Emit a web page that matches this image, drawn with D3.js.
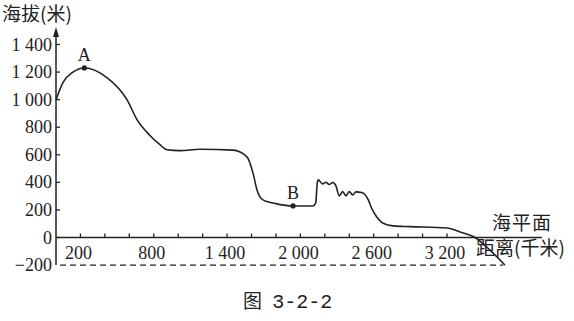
<!DOCTYPE html>
<html>
<head>
<meta charset="utf-8">
<script src="https://cdn.jsdelivr.net/npm/d3@7"></script>
<style>
  body { margin: 0; background: #fff; }
  svg { display: block; }
  .num { font-family: "Liberation Serif", "DejaVu Serif", serif; font-size: 18px; fill: #222; }
  .cjk { font-family: "Noto Sans CJK SC", sans-serif; font-size: 19px; fill: #222; }
</style>
</head>
<body>
<div class="graph"></div>
<script>
// distance (km) along the profile
var distance = [0, 57, 139, 232, 417, 581, 663, 769, 851, 908, 1015, 1178, 1448, 1563, 1612, 1645, 1694, 1808, 1940,
    2103, 2125, 2138, 2146, 2182, 2209, 2236, 2264, 2291, 2318, 2346, 2373, 2400, 2428, 2455, 2502,
    2556, 2583, 2624, 2678, 2760, 2897, 3200, 3306, 3429, 3551, 3674];
// elevation (m)
var elevation = [1000, 1124, 1200, 1230, 1160, 1000, 855, 740, 673, 636, 630, 640, 634, 585, 469, 345, 273, 244, 229,
    229, 249, 394, 418, 389, 401, 384, 399, 375, 302, 333, 302, 333, 309, 331, 326,
    273, 212, 151, 103, 84, 79, 69, 40, 0, -91, -200];

var xTicks = [200, 400, 600, 800, 1000, 1200, 1400, 1600, 1800, 2000, 2200, 2400, 2600, 2800, 3000, 3200];
var xLabels = [200, 800, 1400, 2000, 2600, 3200];
var yTicks = [0, 200, 400, 600, 800, 1000, 1200, 1400];
var yLabels = [-200, 0, 200, 400, 600, 800, 1000, 1200, 1400];
var marks = [{name: "A", km: 232, m: 1230}, {name: "B", km: 1940, m: 229}];

var width = 574, height = 321;

var x = d3.scaleLinear().domain([0, 3200]).range([56, 447]);
var y = d3.scaleLinear().domain([0, 1400]).range([237.5, 44.5]);

// "1 400" style numbers
var fmt = function(v) {
    var s = Math.abs(v) >= 1000 ? Math.floor(Math.abs(v) / 1000) + " " + d3.format("03d")(Math.abs(v) % 1000) : String(Math.abs(v));
    return (v < 0 ? "\u2212" : "") + s;
};

var svg = d3.select('.graph').append("svg")
    .attr("width", width)
    .attr("height", height);

var ink = "#222";

// dashed line at -200
svg.append("line")
    .attr("x1", x(0) + 4).attr("x2", x(3660))
    .attr("y1", y(-200)).attr("y2", y(-200))
    .attr("stroke", ink).attr("stroke-width", 1.3)
    .attr("stroke-dasharray", "6,4");

// x axis (sea level)
svg.append("line")
    .attr("x1", x(0)).attr("x2", 542)
    .attr("y1", y(0)).attr("y2", y(0))
    .attr("stroke", ink).attr("stroke-width", 1.5);

svg.selectAll(".xtick")
    .data(xTicks)
    .enter().append("line")
    .attr("class", "xtick")
    .attr("x1", function(d) { return x(d); })
    .attr("x2", function(d) { return x(d); })
    .attr("y1", y(0)).attr("y2", y(0) - 4)
    .attr("stroke", ink).attr("stroke-width", 1.3);

svg.selectAll(".xlab")
    .data(xLabels)
    .enter().append("text")
    .attr("class", "num")
    .attr("x", function(d) { return x(d) - 2; })
    .attr("y", y(0) + 21)
    .attr("text-anchor", "middle")
    .text(fmt);

// y axis with arrow
svg.append("line")
    .attr("x1", x(0)).attr("x2", x(0))
    .attr("y1", y(-200)).attr("y2", 32)
    .attr("stroke", ink).attr("stroke-width", 1.5);

svg.append("path")
    .attr("d", "M" + x(0) + ",27 L" + (x(0) - 3) + ",37 L" + (x(0) + 3) + ",37 Z")
    .attr("fill", ink);

svg.selectAll(".ytick")
    .data(yTicks)
    .enter().append("line")
    .attr("class", "ytick")
    .attr("x1", x(0)).attr("x2", x(0) + 4)
    .attr("y1", function(d) { return y(d); })
    .attr("y2", function(d) { return y(d); })
    .attr("stroke", ink).attr("stroke-width", 1.3);

svg.selectAll(".ylab")
    .data(yLabels)
    .enter().append("text")
    .attr("class", "num")
    .attr("x", x(0) - 4)
    .attr("y", function(d) { return y(d) + 6; })
    .attr("text-anchor", "end")
    .text(fmt);

// profile
var profile = d3.zip(distance, elevation);

svg.append("path")
    .datum(profile)
    .attr("fill", "none")
    .attr("stroke", ink)
    .attr("stroke-width", 1.6)
    .attr("d", d3.line()
        .x(function(d) { return x(d[0]); })
        .y(function(d) { return y(d[1]); })
        .curve(d3.curveMonotoneX));

var pts = svg.append("g");
pts.selectAll("circle")
    .data(marks)
    .enter().append("circle")
    .attr("cx", function(d) { return x(d.km); })
    .attr("cy", function(d) { return y(d.m); })
    .attr("r", 2.6)
    .attr("fill", ink);

pts.selectAll("text")
    .data(marks)
    .enter().append("text")
    .attr("class", "num")
    .attr("x", function(d) { return x(d.km); })
    .attr("y", function(d) { return y(d.m) - 7; })
    .attr("text-anchor", "middle")
    .text(function(d) { return d.name; });

// titles
svg.append("text").attr("class", "cjk").attr("x", 2).attr("y", 21).attr("font-size", 18).text("海拔(米)");
svg.append("text").attr("class", "cjk").attr("x", 552).attr("y", 230).attr("text-anchor", "end")
    .attr("letter-spacing", 1).text("海平面");
svg.append("text").attr("class", "cjk").attr("x", 476).attr("y", 255).text("距离(千米)");

var cap = svg.append("text").attr("x", 243).attr("y", 308);
cap.append("tspan").attr("class", "cjk").attr("font-size", 20).text("图 ");
cap.append("tspan").attr("font-family", "Liberation Mono, DejaVu Sans Mono, monospace")
    .attr("font-size", 20).attr("fill", ink).attr("dx", 6).text("3-2-2");
</script>
</body>
</html>
